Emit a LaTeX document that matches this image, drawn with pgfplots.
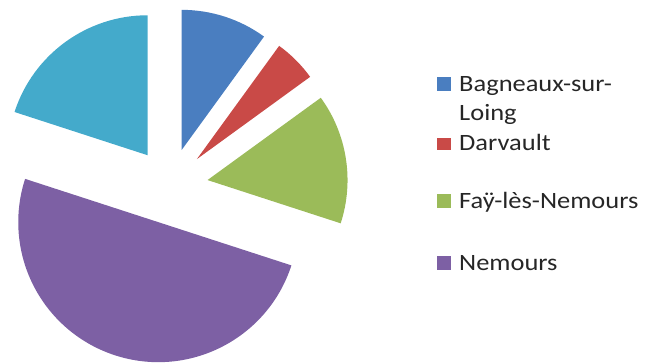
\documentclass[border=0pt]{standalone}
\usepackage{pgfplots}
\usepackage{pgfplotstable}
\pgfplotsset{compat=1.18}
\usepackage{fontspec}
\setmainfont{Carlito}

\definecolor{cBlue}{HTML}{4A7EC0}
\definecolor{cRed}{HTML}{C94A47}
\definecolor{cGreen}{HTML}{9BBB59}
\definecolor{cPurple}{HTML}{7D60A4}
\definecolor{cCyan}{HTML}{44AACB}

% share of each commune (per cent), clockwise from twelve o'clock
\pgfplotstableread[col sep=comma]{
commune,share,colour
Bagneaux,10,cBlue
Darvault,5,cRed
Fay,15,cGreen
Nemours,50,cPurple
Autres,20,cCyan
}\pietable

% pie geometry (axis units): centre, radius, explosion offset
\def\cx{170}
\def\cy{178}
\def\R{140}
\def\gap{38}

\begin{document}
\begin{tikzpicture}
\useasboundingbox (0,0) rectangle (646bp,364bp);
\begin{axis}[
  hide axis, clip=false,
  x=1bp, y=1bp,
  xmin=0, xmax=646, ymin=0, ymax=364,
  at={(0,0)}, anchor=south west,
]
\pgfplotstablegetrowsof{\pietable}
\pgfmathtruncatemacro{\lastrow}{\pgfplotsretval-1}
\def\cum{0}
\pgfplotsforeachungrouped \i in {0,...,\lastrow}{%
  \pgfplotstablegetelem{\i}{share}\of\pietable \let\share\pgfplotsretval
  \pgfplotstablegetelem{\i}{colour}\of\pietable \let\col\pgfplotsretval
  \pgfmathsetmacro{\aone}{90-3.6*\cum}
  \pgfmathsetmacro{\atwo}{90-3.6*(\cum+\share)}
  \pgfmathsetmacro{\amid}{(\aone+\atwo)/2}
  \pgfmathsetmacro{\tx}{\cx+\gap*cos(\amid)}
  \pgfmathsetmacro{\ty}{\cy+\gap*sin(\amid)}
  \edef\doslice{\noexpand\fill[\col] (axis cs:\tx,\ty) -- ++(\aone:\R bp)
    arc[start angle=\aone, end angle=\atwo, radius=\R bp] -- cycle;}
  \doslice
  \pgfmathsetmacro{\cum}{\cum+\share}
}

% legend
\tikzset{legtext/.style={anchor=base west, inner sep=0pt, xscale=1.13,
  font=\fontsize{23.5}{28}\selectfont, text=black!85}}
\fill[cBlue]   (axis cs:437,273) rectangle (axis cs:451,287);
\fill[cRed]    (axis cs:437,214) rectangle (axis cs:451,226);
\fill[cGreen]  (axis cs:437,156) rectangle (axis cs:451,170);
\fill[cPurple] (axis cs:437,94)  rectangle (axis cs:451,108);
\node[legtext] at (axis cs:459,273) {Bagneaux-sur-};
\node[legtext] at (axis cs:459,244) {Loing};
\node[legtext] at (axis cs:459,214) {Darvault};
\node[legtext] at (axis cs:459,156) {Faÿ-lès-Nemours};
\node[legtext] at (axis cs:459,94)  {Nemours};
\end{axis}
\end{tikzpicture}
\end{document}
